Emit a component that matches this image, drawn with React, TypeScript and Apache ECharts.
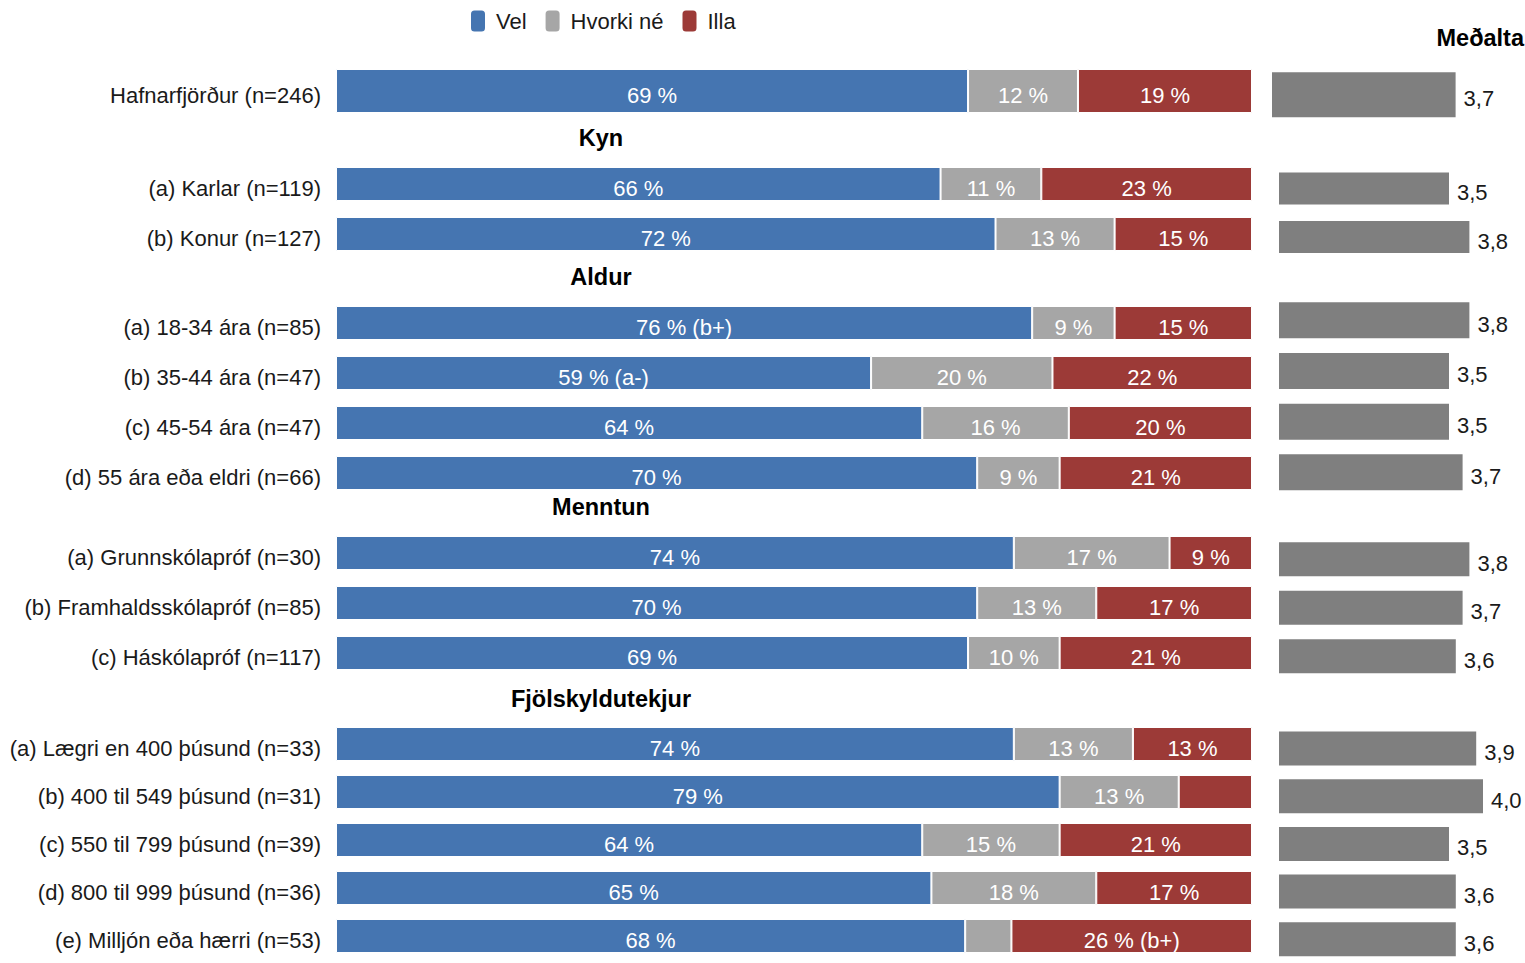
import React, { useEffect, useRef } from "react";
import * as echarts from "echarts";

const categories = [
  "Hafnarfjörður (n=246)",
  "(a) Karlar (n=119)",
  "(b) Konur (n=127)",
  "(a) 18-34 ára (n=85)",
  "(b) 35-44 ára (n=47)",
  "(c) 45-54 ára (n=47)",
  "(d) 55 ára eða eldri (n=66)",
  "(a) Grunnskólapróf (n=30)",
  "(b) Framhaldsskólapróf (n=85)",
  "(c) Háskólapróf (n=117)",
  "(a) Lægri en 400 þúsund (n=33)",
  "(b) 400 til 549 þúsund (n=31)",
  "(c) 550 til 799 þúsund (n=39)",
  "(d) 800 til 999 þúsund (n=36)",
  "(e) Milljón eða hærri (n=53)",
];
const groupTitles = ["", "Kyn", "Aldur", "Menntun", "Fjölskyldutekjur"];
const groupSizes = [1, 2, 4, 3, 5];

const seriesNames = ["Vel", "Hvorki né", "Illa"];
const vel = [69, 66, 72, 76, 59, 64, 70, 74, 70, 69, 74, 79, 64, 65, 68];
const hvorki = [12, 11, 13, 9, 20, 16, 9, 17, 13, 10, 13, 13, 15, 18, 5];
const illa = [19, 23, 15, 15, 22, 20, 21, 9, 17, 21, 13, 8, 21, 17, 26];
const velNotes = ["", "", "", "(b+)", "(a-)", "", "", "", "", "", "", "", "", "", ""];
const hvorkiNotes = ["", "", "", "", "", "", "", "", "", "", "", "", "", "", ""];
const illaNotes = ["", "", "", "", "", "", "", "", "", "", "", "", "", "", "(b+)"];
const medaltal = [3.7, 3.5, 3.8, 3.8, 3.5, 3.5, 3.7, 3.8, 3.7, 3.6, 3.9, 4.0, 3.5, 3.6, 3.6];
const medaltalTitle = "Meðalta";

// layout (positions only)
const FONT = "'Liberation Sans', Arial, sans-serif";
const COLORS = ["#4575B1", "#A6A6A6", "#9C3A37"];
const AVG_COLOR = "#7F7F7F";
const leftGrids = [
  { top: 66, height: 50, bar: 44 },
  { top: 159, height: 100, bar: 34 },
  { top: 298, height: 200, bar: 34 },
  { top: 528, height: 150, bar: 34 },
  { top: 720, height: 240, bar: 34 },
];
const rightGrids = [
  { left: 1272, top: 69.7, height: 50, bar: 45 },
  { left: 1279, top: 164.3, height: 97, bar: 32 },
  { left: 1279, top: 295, height: 202.6, bar: 36 },
  { left: 1279, top: 535, height: 145.5, bar: 34 },
  { left: 1279, top: 724.8, height: 245, bar: 34 },
];

export default function App() {
  const ref = useRef<HTMLDivElement>(null);
  useEffect(() => {
    if (!ref.current) return;
    const chart = echarts.init(ref.current, null, { renderer: "svg" });
    const arrays = [vel, hvorki, illa];
    const notes = [velNotes, hvorkiNotes, illaNotes];
    const grid: any[] = [];
    const xAxis: any[] = [];
    const yAxis: any[] = [];
    const series: any[] = [];
    const graphic: any[] = [];
    let start = 0;
    groupSizes.forEach((n, gi) => {
      const idx = Array.from({ length: n }, (_, k) => start + k);
      const lg = leftGrids[gi];
      grid.push({ left: 336, width: 916, top: lg.top, height: lg.height });
      xAxis.push({ type: "value", gridIndex: gi, min: 0, max: 100, show: false });
      yAxis.push({
        type: "category",
        gridIndex: gi,
        inverse: true,
        data: idx.map((i) => categories[i]),
        axisLine: { show: false },
        axisTick: { show: false },
        axisLabel: {
          margin: 15,
          formatter: "{a|{value}}",
          rich: {
            a: {
              fontSize: 22,
              fontFamily: FONT,
              color: "#1a1a1a",
              padding: [8, 0, 0, 0],
            },
          },
        },
      });
      if (groupTitles[gi]) {
        graphic.push({
          type: "text",
          x: 601,
          y: lg.top - 21,
          style: {
            text: groupTitles[gi],
            fontSize: 23.5,
            fontWeight: "bold",
            fontFamily: FONT,
            fill: "#000",
            align: "center",
            verticalAlign: "middle",
          },
        });
      }
      arrays.forEach((arr, si) => {
        series.push({
          type: "bar",
          name: seriesNames[si],
          stack: "g" + gi,
          xAxisIndex: gi,
          yAxisIndex: gi,
          barWidth: lg.bar,
          itemStyle: { color: COLORS[si], borderColor: "#fff", borderWidth: 1 },
          label: {
            show: true,
            position: "inside",
            color: "#fff",
            fontSize: 22,
            fontFamily: FONT,
            offset: [0, 4],
          },
          data: idx.map((i) => {
            const total = vel[i] + hvorki[i] + illa[i];
            const v = arr[i];
            const note = notes[si][i];
            return {
              value: (v / total) * 100,
              label: { show: v >= 9, formatter: `${v} %${note ? " " + note : ""}` },
            };
          }),
        });
      });
      start += n;
    });
    start = 0;
    groupSizes.forEach((n, gi) => {
      const idx = Array.from({ length: n }, (_, k) => start + k);
      const rg = rightGrids[gi];
      const gIndex = groupSizes.length + gi;
      grid.push({ left: rg.left, width: 238, top: rg.top, height: rg.height });
      xAxis.push({ type: "value", gridIndex: gIndex, min: 1, max: 4.5, show: false });
      yAxis.push({
        type: "category",
        gridIndex: gIndex,
        inverse: true,
        data: idx.map((i) => categories[i]),
        show: false,
      });
      series.push({
        type: "bar",
        name: "Meðaltal",
        xAxisIndex: gIndex,
        yAxisIndex: gIndex,
        barWidth: rg.bar,
        itemStyle: { color: AVG_COLOR },
        label: {
          show: true,
          position: "right",
          distance: 8,
          offset: [0, 4],
          fontSize: 22,
          fontFamily: FONT,
          color: "#1a1a1a",
          formatter: (p: any) => Number(p.value).toFixed(1).replace(".", ","),
        },
        data: idx.map((i) => medaltal[i]),
      });
      start += n;
    });
    graphic.push({
      type: "text",
      x: 1524,
      y: 38,
      style: {
        text: medaltalTitle,
        fontSize: 23.5,
        fontWeight: "bold",
        fontFamily: FONT,
        fill: "#000",
        align: "right",
        verticalAlign: "middle",
      },
    });
    chart.setOption({
      animation: false,
      backgroundColor: "#fff",
      legend: {
        data: seriesNames,
        top: 5,
        left: 466,
        icon: "roundRect",
        itemWidth: 14,
        itemHeight: 21,
        itemGap: 19,
        itemStyle: { borderWidth: 0 },
        textStyle: { fontSize: 22, fontFamily: FONT, color: "#1a1a1a", padding: [0, 0, 0, 6] },
        selectedMode: false,
      },
      grid,
      xAxis,
      yAxis,
      series,
      graphic,
    });
    return () => chart.dispose();
  }, []);
  return (
    <div
      ref={ref}
      style={{ position: "absolute", left: 0, top: 0, width: 1525, height: 963 }}
    />
  );
}
